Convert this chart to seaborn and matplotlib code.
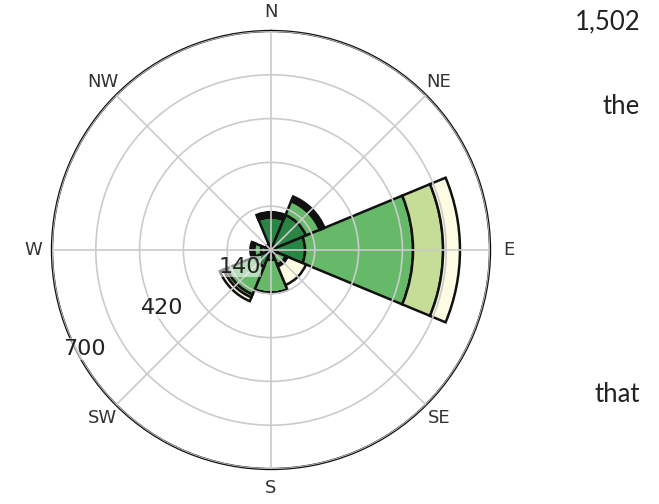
import numpy as np
import pandas as pd
import seaborn as sns
from matplotlib import pyplot as plt

# wind directions (compass, clockwise from north)
directions = ["N", "NE", "E", "SE", "S", "SW", "W", "NW"]
dir_deg = [0, 45, 90, 135, 180, 225, 270, 315]

# counts per speed class, stacked from the centre outwards
speed_classes = ["calm", "light", "moderate", "strong"]
c_calm = [105, 121, 109, 19, 32, 58, 32, 19]
c_light = [0, 48, 345, 32, 105, 96, 22, 0]
c_moderate = [8, 8, 96, 6, 0, 10, 6, 0]
c_strong = [8, 8, 54, 64, 0, 13, 6, 0]

r_ticks = [140, 280, 420, 560, 700]
r_labels = ["140", "", "420", "", "700"]

df = pd.DataFrame({"calm": c_calm, "light": c_light,
                   "moderate": c_moderate, "strong": c_strong},
                  index=directions)

sns.set_style("white")
plt.rcParams["font.family"] = ["DejaVu Sans"]

colors = ["#2a8444", "#66b968", "#c6dd98", "#fdfce2"]

fig = plt.figure(figsize=(6.59, 5.04), dpi=100)
ax = fig.add_axes([52 / 659, 35 / 504, 438 / 659, 438 / 504], projection="polar")
ax.set_theta_zero_location("N")
ax.set_theta_direction(-1)

theta = np.deg2rad(dir_deg)
width = np.deg2rad(45)
bottom = np.zeros(len(directions))
for col, c in zip(speed_classes, colors):
    vals = df[col].values
    ax.bar(theta, vals, width=width, bottom=bottom, color=c,
           edgecolor="#111111", linewidth=1.8, align="center")
    bottom = bottom + vals

ax.set_ylim(0, 700)
ax.set_rgrids(r_ticks, labels=[""] * len(r_ticks))
ax.set_thetagrids(dir_deg, labels=directions, fontsize=13, color="#333333")
ax.tick_params(axis="x", pad=3)
ax.grid(True, color="#cbcbcb", linewidth=1.2)
ax.set_axisbelow(False)
ax.spines["polar"].set_color("#111111")
ax.spines["polar"].set_linewidth(1.7)

# radial labels sit a little inside their rings, towards the lower left
for r, lab in zip(r_ticks, r_labels):
    if lab:
        ax.text(np.deg2rad(242), r - 26, lab, ha="center", va="center",
                fontsize=16, color="#222222", zorder=5,
                bbox=dict(facecolor="white", alpha=0.55, edgecolor="none", pad=0.5))

side_font = ["Lato", "DejaVu Sans"]
fig.text(640 / 659, 1 - 22 / 504, "1,502", ha="right", va="center",
         fontsize=18.5, family=side_font, color="#222222")
fig.text(640 / 659, 1 - 106 / 504, "the", ha="right", va="center",
         fontsize=18.5, family=side_font, color="#222222")
fig.text(640 / 659, 1 - 394 / 504, "that", ha="right", va="center",
         fontsize=18.5, family=side_font, color="#222222")

plt.savefig("out.png", dpi=100)
